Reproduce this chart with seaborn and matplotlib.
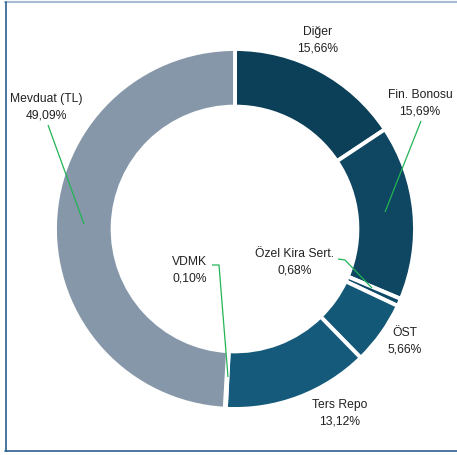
import matplotlib
matplotlib.use("Agg")
import matplotlib.pyplot as plt
import seaborn as sns

categories = ["Diğer", "Fin. Bonosu", "Özel Kira Sert.", "ÖST", "Ters Repo", "VDMK", "Mevduat (TL)"]
values = [15.66, 15.69, 0.68, 5.66, 13.12, 0.10, 49.09]
value_labels = ["15,66%", "15,69%", "0,68%", "5,66%", "13,12%", "0,10%", "49,09%"]
colors = ["#0c4058", "#0f4662", "#0f4a68", "#145877", "#155a7a", "#1a6080", "#8597a9"]

sns.set_theme(style="white")
plt.rcParams["font.family"] = ["Liberation Sans Narrow", "Liberation Sans", "DejaVu Sans"]

W, H = 457, 456
fig = plt.figure(figsize=(W / 100, H / 100), dpi=100)
ax = fig.add_axes([0, 0, 1, 1])
ax.set_xlim(0, W)
ax.set_ylim(0, H)
ax.set_aspect("equal")
ax.axis("off")

cx, cy, R = 235, H - 230, 180
wedges, _ = ax.pie(values, colors=colors, startangle=90, counterclock=False,
                   center=(cx, cy), radius=R, frame=True,
                   wedgeprops=dict(width=R * 0.32, edgecolor="white", linewidth=2.8))
ax.set_xlim(0, W)
ax.set_ylim(0, H)
ax.axis("off")

# label positions (pixel coords, top-origin)
pos = [(318, 40), (420, 103), (295, 262), (405, 341), (340, 413), (190, 270), (46, 107)]
for (x, y), c, v in zip(pos, categories, value_labels):
    ax.text(x, H - y, f"{c}\n{v}", ha="center", va="center", fontsize=8.7,
            color="#222222", linespacing=1.45)

green = "#22b455"
leaders = [
    [(421, 122), (385, 213)],
    [(48, 126), (84, 225)],
    [(212, 266), (219, 266), (228, 378)],
    [(338, 260), (345, 261), (372, 289)],
]
for pts in leaders:
    xs = [p[0] for p in pts]
    ys = [H - p[1] for p in pts]
    ax.plot(xs, ys, color=green, lw=0.9, solid_capstyle="butt")

# frame
ax.plot([5, W], [H - 3, H - 3], color="#a8bcd4", lw=1.6, clip_on=False)
ax.plot([5.5, 5.5], [H - 3, H - 452], color="#2b5f92", lw=1.2, clip_on=False)
ax.plot([5, W], [H - 452, H - 452], color="#2b5f92", lw=1.2, clip_on=False)

fig.savefig("out.png", dpi=100)
